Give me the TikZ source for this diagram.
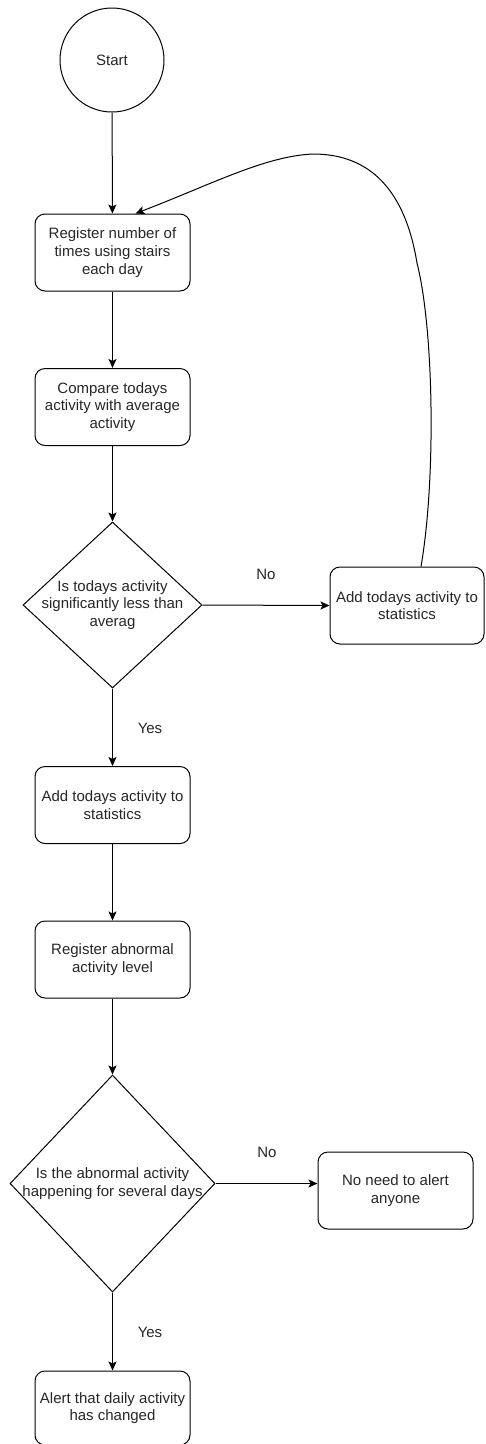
\documentclass[tikz,border=0pt]{standalone}
\usepackage{fontspec}
\setmainfont{Liberation Sans}
\usetikzlibrary{positioning}
\usetikzlibrary{shapes.geometric}
\usetikzlibrary{arrows.meta}

\begin{document}
\begin{tikzpicture}[x=1pt, y=-1pt,
    every node/.style={font=\fontsize{15pt}{17.7pt}\selectfont, text=black!85},
    start style/.style={circle, draw, line width=1pt, minimum size=104pt, inner sep=0pt},
    step box/.style={rectangle, rounded corners=10pt, draw, line width=1pt,
        minimum width=155pt, minimum height=77pt, inner sep=0pt, align=center},
    decision/.style={diamond, draw, line width=1pt, inner sep=0pt},
    edge label/.style={inner sep=0pt},
    flow/.style={line width=1pt, -{Stealth[length=9pt,width=8pt,inset=2pt]}}
]
    \useasboundingbox (0,0) rectangle (485,1444);

    \node[start style] (start) at (112,60) {Start};
    \node[step box] (reg) at (112.5,252.5) {Register number of\\times using stairs\\each day};
    \node[step box] (cmp) at (112.5,407) {Compare todays\\activity with average\\activity};
    \node[decision, minimum width=179pt, minimum height=166pt,
        label={[align=center]center:Is todays activity\\significantly less than\\averag}]
        (less) at (112.5,605) {};
    \node[step box, minimum width=154pt] (addno) at (407,605.5) {Add todays activity to\\statistics};
    \node[step box] (addyes) at (112.5,805) {Add todays activity to\\statistics};
    \node[step box] (abn) at (112.5,959.5) {Register abnormal\\activity level};
    \node[decision, minimum width=205pt, minimum height=217pt,
        label={[align=center]center:Is the abnormal activity\\happening for several days}]
        (days) at (112.5,1183.5) {};
    \node[step box] (noalert) at (395.5,1190.5) {No need to alert\\anyone};
    \node[step box, minimum height=74pt] (alert) at (112.5,1408) {Alert that daily activity\\has changed};

    \node[edge label] (no1) at (266,574) {No};
    \node[edge label] (yes1) at (150,728) {Yes};
    \node[edge label] (no2) at (267,1152) {No};
    \node[edge label] (yes2) at (150,1332) {Yes};

    \draw[flow] (start) -- (reg);
    \draw[flow] (reg) -- (cmp);
    \draw[flow] (cmp) -- (less);
    \draw[flow] (less.east) -- (addno.west);
    \draw[flow] (less.south) -- (addyes.north);
    \draw[flow] (addyes) -- (abn);
    \draw[flow] (abn.south) -- (days.north);
    \draw[flow] (days.east) -- (days.east -| noalert.west);
    \draw[flow] (days.south) -- (alert.north);

    % loop back to the start
    \draw[flow] ([xshift=14pt]addno.north) .. controls (436,480) and (434,330) .. (417,263)
        .. controls (405,190) and (370,154) .. (313,154)
        .. controls (265,156) and (210,185) .. ([xshift=23pt]reg.north);
\end{tikzpicture}
\end{document}
